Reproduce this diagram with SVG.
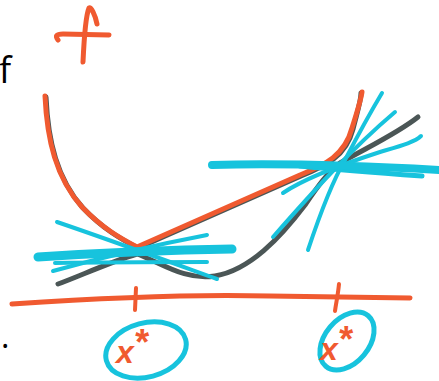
<svg xmlns="http://www.w3.org/2000/svg" width="439" height="381" viewBox="0 0 439 381">
<style>
.o{fill:none;stroke:#F05A30;stroke-linecap:round;stroke-linejoin:round}
.c{fill:none;stroke:#17C3DD;stroke-linecap:round;stroke-linejoin:round}
.g{fill:none;stroke:#4B5656;stroke-linecap:round;stroke-linejoin:round}
.lbl{font-family:"Open Sans","Liberation Sans",sans-serif;fill:#000}
.hx{font-family:"Liberation Sans",Arial,sans-serif;font-weight:bold;font-style:italic;fill:#F05A30}
</style>
<rect width="439" height="381" fill="#fff"/>
<g id="labels">
<text class="lbl" x="-1" y="83" font-size="36">f</text>
<text class="lbl" x="1" y="348" font-size="32">.</text>
</g>
<g id="plus">
<path class="o" stroke-width="5" d="M58,40 C55,36 56,34 63,34 L109,35"/>
<path class="o" stroke-width="5" d="M97,24 C95,14 91,7 89,8 C86,15 84,40 83,62"/>
</g>
<g id="functions">
<path class="g" stroke-width="5" d="M46,97 C48,141 57,179 83,208 C103,229 121,239 138,248 L301,176 C326,166 346,156 353,129 C357,113 361,101 361,93"/>
<path class="g" stroke-width="5" d="M58,284 C80,276 110,262 137,254 C160,262 185,281 215,276 C250,270 280,238 305,205 C318,186 328,172 340,163 C370,146 398,133 418,117"/>
<path class="o" stroke-width="5" d="M45,96 C47,140 56,178 82,207 C102,228 120,238 137,247 L300,175 C325,165 345,155 352,128 C357,112 361,100 362,92"/>
</g>
<g id="axis">
<path class="o" stroke-width="5" d="M12,304 C100,298 200,294 270,296 C330,297 380,298 410,298"/>
<path class="o" stroke-width="4" d="M136,288 L135,310"/>
<path class="o" stroke-width="4" d="M339,284 C338,295 336,303 335,311"/>
</g>
<g id="tangents-left">
<path class="c" stroke-width="4" d="M57,222 C110,240 170,262 217,279"/>
<path class="c" stroke-width="4" d="M53,271 C100,258 160,244 207,235"/>
<path class="c" stroke-width="4" d="M55,263 C110,262 160,262 207,262"/>
<path class="c" stroke-width="9" d="M38,257 C100,253 170,250 232,249"/>
</g>
<g id="tangents-right">
<path class="c" stroke-width="5" d="M300,166 C340,170 380,173 422,176"/>
<path class="c" stroke-width="4" d="M283,193 C305,178 340,165 380,152 C400,146 415,142 421,136"/>
<path class="c" stroke-width="4" d="M273,237 C310,195 350,150 395,112"/>
<path class="c" stroke-width="4" d="M308,250 C318,220 332,182 345,160 C358,135 370,113 382,93"/>
<path class="c" stroke-width="8" d="M212,165 C280,163 350,165 439,170"/>
</g>
<g id="minimizer-left">
<ellipse class="c" stroke-width="5" cx="146" cy="350" rx="41" ry="27" transform="rotate(-15 146 350)"/>
<text class="hx" x="116" y="363" font-size="32">x<tspan dy="-8" font-size="36">*</tspan></text>
</g>
<g id="minimizer-right">
<ellipse class="c" stroke-width="5" cx="347" cy="341" rx="33" ry="22" transform="rotate(-50 347 341)"/>
<text class="hx" x="320" y="360" font-size="32">x<tspan dy="-8" font-size="36">*</tspan></text>
</g>
</svg>
